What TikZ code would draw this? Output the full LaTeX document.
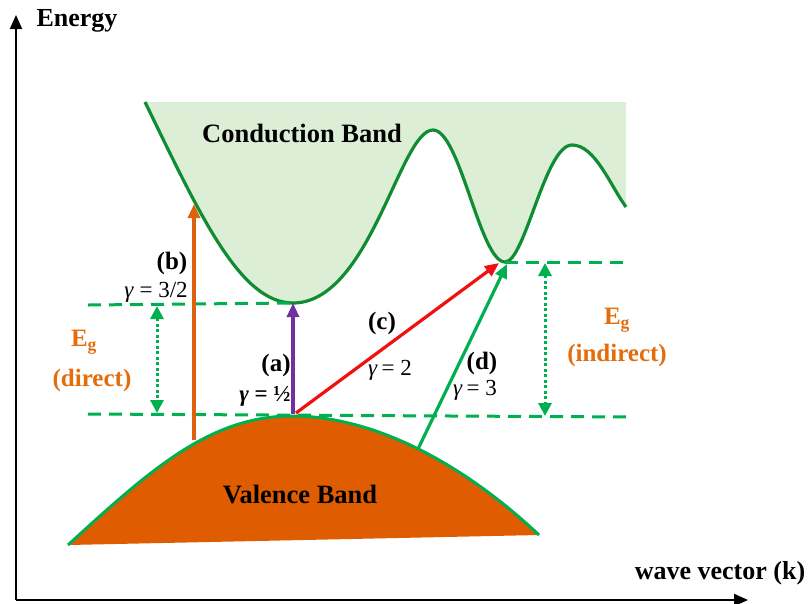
\documentclass[tikz,border=0pt]{standalone}
\usepackage{fontspec}
\setmainfont{Liberation Serif}
\usetikzlibrary{arrows.meta}
\definecolor{cbfill}{RGB}{220,239,214}
\definecolor{cbline}{RGB}{16,140,50}
\definecolor{vgreen}{RGB}{0,176,80}
\definecolor{vbfill}{RGB}{224,92,0}
\definecolor{otext}{RGB}{228,108,10}
\definecolor{oarrow}{RGB}{222,98,14}
\definecolor{purp}{RGB}{112,48,160}
\definecolor{redc}{RGB}{240,16,16}
\begin{document}
\begin{tikzpicture}[x=1pt,y=-1pt,
  lbl/.style={font=\fontsize{25}{28}\selectfont\bfseries, inner sep=0pt},
  gam/.style={font=\fontsize{23}{26}\selectfont, inner sep=0pt},
  olbl/.style={font=\fontsize{25}{28}\selectfont\bfseries, text=otext, inner sep=0pt},
  trans/.style={line width=3.2pt, -{Triangle[length=14pt,width=12pt]}},
  level/.style={vgreen, line width=3pt, dash pattern=on 13pt off 8pt},
  gap/.style={vgreen, line width=3pt, dash pattern=on 3pt off 2.5pt,
    {Triangle[length=13pt,width=13pt]}-{Triangle[length=13pt,width=13pt]}},
  axis/.style={line width=2pt, -{Triangle[length=14pt,width=12pt]}}]
\useasboundingbox (0,0) rectangle (808,603);

% coordinates
\coordinate (origin) at (16,600);
\coordinate (ytop) at (16,15);
\coordinate (xend) at (748,600);
\coordinate (cbmin) at (293,303);
\coordinate (cbmin2) at (505,262);
\coordinate (vbtop) at (293,414);

% conduction band
\fill[cbfill] (145,102) .. controls (200,215) and (240,303) .. (293,303)
  .. controls (370,303) and (400,130) .. (433,130)
  .. controls (460,130) and (480,262) .. (505,262)
  .. controls (525,262) and (545,145) .. (572,145)
  .. controls (595,145) and (610,185) .. (626,207) -- (626,102) -- cycle;
\draw[cbline, line width=3.2pt] (145,102) .. controls (200,215) and (240,303) .. (293,303)
  .. controls (370,303) and (400,130) .. (433,130)
  .. controls (460,130) and (480,262) .. (505,262)
  .. controls (525,262) and (545,145) .. (572,145)
  .. controls (595,145) and (610,185) .. (626,207);

% valence band
\fill[vbfill] (68,545) .. controls (150,470) and (210,416) .. (292,416)
  .. controls (380,416) and (470,470) .. (539,535) -- cycle;
\draw[vgreen, line width=3pt] (68,545) .. controls (150,470) and (210,416) .. (292,416)
  .. controls (380,416) and (470,470) .. (539,535);

% levels
\coordinate (l1a) at (88,305);
\coordinate (l2a) at (88,414);
\coordinate (l2b) at (633,417);
\coordinate (l3b) at (625,262);
\draw[level] (l1a) -- (cbmin);
\draw[level] (l2a) -- (l2b);
\draw[level] (cbmin2) -- (l3b);

% gap arrows
\coordinate (g1a) at (157,306);
\coordinate (g1b) at (157,413);
\coordinate (g2a) at (545,263);
\coordinate (g2b) at (545,416);
\draw[gap] (g1a) -- (g1b);
\draw[gap] (g2a) -- (g2b);

% transitions
\coordinate (bstart) at (194,440);
\coordinate (bend) at (194,204);
\coordinate (dstart) at (418,449);
\coordinate (dend) at (507,264);
\draw[trans, oarrow] (bstart) -- (bend);
\draw[trans, purp] (vbtop) -- (cbmin);
\draw[trans, redc] (296,413) -- (499,263);
\draw[trans, vgreen] (dstart) -- (dend);

% axes
\draw[axis] (origin) -- (ytop);
\draw[axis] (origin) -- (xend);

% texts
\node[lbl, font=\fontsize{26}{28}\selectfont\bfseries] (energy) at (77,21) {Energy};
\node[lbl, font=\fontsize{26}{28}\selectfont\bfseries] (kvec) at (720,573) {wave vector (k)};
\node[lbl, font=\fontsize{26.5}{28}\selectfont\bfseries] (cb) at (302,133) {Conduction Band};
\node[lbl, font=\fontsize{26.5}{28}\selectfont\bfseries] (vb) at (300,494) {Valence Band};
\node[lbl] (lb) at (172,263) {(b)};
\node[gam] (gb) at (156,292) {\textit{γ} = 3/2};
\node[lbl] (la) at (276,365) {(a)};
\node[gam, font=\fontsize{23}{26}\selectfont\bfseries] (ga) at (265,396) {\textit{γ} = ½};
\node[lbl] (lc) at (382,323) {(c)};
\node[gam] (gc) at (390,370) {\textit{γ}\,= 2};
\node[lbl] (ld) at (482,363) {(d)};
\node[gam] (gd) at (475,390) {\textit{γ}\,= 3};
\node[olbl] (eg1) at (84,342) {E\textsubscript{g}};
\node[olbl] (dir) at (92,380) {(direct)};
\node[olbl] (eg2) at (617,320) {E\textsubscript{g}};
\node[olbl] (ind) at (617,355) {(indirect)};
\end{tikzpicture}
\end{document}
